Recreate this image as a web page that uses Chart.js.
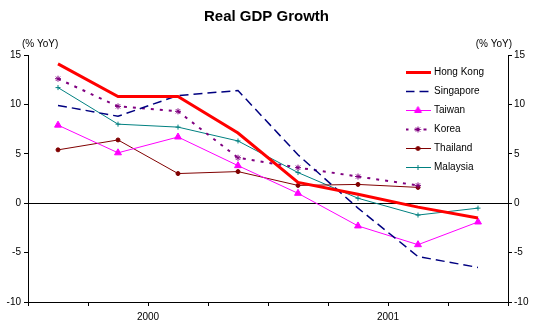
<!DOCTYPE html>
<html>
<head>
<meta charset="utf-8">
<title>Real GDP Growth</title>
<script src="https://cdn.jsdelivr.net/npm/chart.js@4.4.0/dist/chart.umd.min.js"></script>
<style>
  html, body { margin: 0; padding: 0; background: #fff; }
  canvas { display: block; }
</style>
</head>
<body>
<canvas id="gdpChart" width="533" height="327"></canvas>
<script>
// quarterly GDP growth, % YoY
const quarters = ['1Q00', '2Q00', '3Q00', '4Q00', '1Q01', '2Q01', '3Q01', '4Q01'];
const years = ['2000', '2001'];
const yTicks = [-10, -5, 0, 5, 10, 15];

const hongKong  = [14.1, 10.8, 10.8, 7.1, 2.1, 0.9, -0.4, -1.5];
const singapore = [9.9, 8.8, 10.9, 11.4, 4.9, -0.5, -5.4, -6.5];
const taiwan    = [7.9, 5.1, 6.7, 3.8, 1.0, -2.3, -4.2, -1.9];
const korea     = [12.6, 9.8, 9.3, 4.6, 3.6, 2.7, 1.8, null];
const thailand  = [5.4, 6.4, 3.0, 3.2, 1.8, 1.9, 1.6, null];
const malaysia  = [11.7, 8.0, 7.7, 6.3, 3.1, 0.5, -1.2, -0.5];

Chart.defaults.font.family = "'Liberation Sans', Arial, sans-serif";
Chart.defaults.font.size = 10;
Chart.defaults.color = '#000';

function series(label, data, color, width, dash, style, radius) {
    return {
        label: label,
        data: data,
        borderColor: color,
        backgroundColor: color,
        borderWidth: width,
        borderDash: dash,
        tension: 0,
        pointStyle: style || 'circle',
        pointRadius: style ? radius : 0,
        pointHoverRadius: style ? radius : 0,
        pointBorderWidth: 1,
        pointBorderColor: color,
        pointBackgroundColor: color
    };
}

// little line + marker sample used in the legend
function swatch(ds) {
    const c = document.createElement('canvas');
    c.width = 25;
    c.height = 9;
    const g = c.getContext('2d');
    g.strokeStyle = ds.borderColor;
    g.lineWidth = ds.borderWidth;
    g.setLineDash(ds.borderDash);
    g.beginPath();
    g.moveTo(0, 4.5);
    g.lineTo(25, 4.5);
    g.stroke();
    g.setLineDash([]);
    if (ds.pointRadius > 0) {
        g.fillStyle = ds.pointBackgroundColor;
        g.strokeStyle = ds.pointBorderColor;
        g.lineWidth = ds.pointBorderWidth;
        Chart.helpers.drawPoint(g, {pointStyle: ds.pointStyle, radius: ds.pointRadius, rotation: 0, borderWidth: ds.pointBorderWidth}, 12.5, 4.5);
    }
    return c;
}

const datasets = [
    series('Hong Kong', hongKong, '#ff0000', 3, [], null, 0),
    series('Singapore', singapore, '#000080', 1.5, [9, 5], null, 0),
    series('Taiwan', taiwan, '#ff00ff', 1, [], 'triangle', 4),
    series('Korea', korea, '#800080', 2, [3, 6], 'star', 3),
    series('Thailand', thailand, '#800000', 1, [], 'circle', 2),
    series('Malaysia', malaysia, '#008080', 1, [], 'cross', 2.5)
];

// "(% YoY)" captions above both value axes, and legend placement inside the plot
const axisCaptions = {
    id: 'axisCaptions',
    afterLayout(chart) {
        const lg = chart.legend;
        lg.left = 398;
        lg.right = 533;
        lg.top = 58.5;
        lg.bottom = 210;
    },
    afterDraw(chart) {
        const ctx = chart.ctx;
        const top = chart.chartArea.top - 11;
        ctx.save();
        ctx.font = "10px 'Liberation Sans', Arial, sans-serif";
        ctx.fillStyle = '#000';
        ctx.textBaseline = 'middle';
        ctx.textAlign = 'left';
        ctx.fillText('(% YoY)', chart.scales.y.right - 6, top);
        ctx.textAlign = 'right';
        ctx.fillText('(% YoY)', chart.scales.y2.left + 4, top);
        ctx.restore();
    }
};

const valueTicks = {
    min: -10,
    max: 15,
    afterBuildTicks: (scale) => { scale.ticks = yTicks.map(v => ({value: v})); }
};

let gdpChart = new Chart(document.getElementById('gdpChart'), {
    type: 'line',
    data: {
        labels: quarters,
        datasets: datasets
    },
    options: {
        responsive: false,
        animation: false,
        events: [],
        layout: { padding: 0 },
        plugins: {
            title: {
                display: true,
                text: 'Real GDP Growth',
                font: { size: 15, weight: 'bold' },
                color: '#000',
                padding: { top: 8, bottom: 29 }
            },
            legend: {
                position: 'chartArea',
                align: 'start',
                labels: {
                    usePointStyle: true,
                    pointStyleWidth: 22,
                    padding: 9,
                    font: { size: 10 },
                    color: '#000',
                    generateLabels: (chart) => chart.data.datasets.map((ds, i) => ({
                        text: ds.label,
                        datasetIndex: i,
                        fillStyle: ds.borderColor,
                        strokeStyle: ds.borderColor,
                        lineWidth: 0,
                        hidden: false,
                        fontColor: '#000',
                        pointStyle: swatch(ds)
                    }))
                }
            },
            tooltip: { enabled: false }
        },
        scales: {
            x: {
                type: 'category',
                position: 'bottom',
                weight: 0,
                offset: true,
                grid: { display: true, drawOnChartArea: false, offset: true, tickLength: 4, color: '#000', tickColor: '#000' },
                border: { display: true, color: '#000', width: 1 },
                ticks: { display: false },
                afterFit: (s) => { s.height = 5; }
            },
            x2: {
                type: 'category',
                position: 'bottom',
                weight: 1,
                labels: years,
                offset: true,
                grid: { display: false, drawTicks: false },
                border: { display: false },
                ticks: { padding: 4, font: { size: 10 }, color: '#000', maxRotation: 0 },
                afterFit: (s) => { s.height = 20; }
            },
            y: Object.assign({
                position: 'left',
                grid: {
                    drawOnChartArea: true,
                    tickLength: 4,
                    tickColor: '#000',
                    color: (c) => (c.tick && c.tick.value === 0) ? '#000' : 'rgba(0,0,0,0)'
                },
                border: { display: true, color: '#000', width: 1 },
                ticks: { padding: 3, font: { size: 10 }, color: '#000' },
                afterFit: (s) => { s.width = 28; }
            }, valueTicks),
            y2: Object.assign({
                position: 'right',
                grid: { drawOnChartArea: false, tickLength: 4, tickColor: '#000' },
                border: { display: true, color: '#000', width: 1 },
                ticks: { padding: 2, font: { size: 10 }, color: '#000' },
                afterFit: (s) => { s.width = 25; }
            }, valueTicks)
        }
    },
    plugins: [axisCaptions]
});
</script>
</body>
</html>
